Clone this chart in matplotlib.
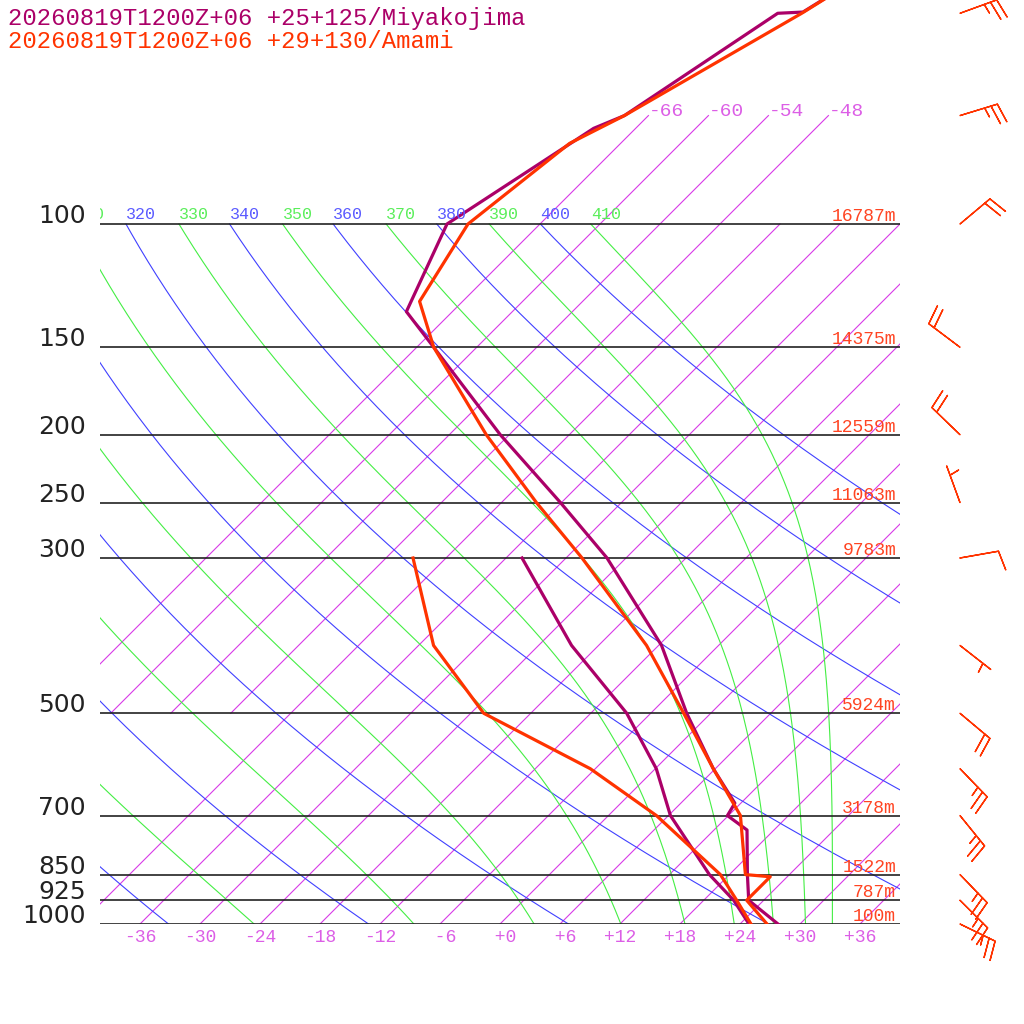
import numpy as np
import matplotlib
matplotlib.use('Agg')
import matplotlib.pyplot as plt
from matplotlib import transforms

# sounding: Miyakojima (pressure hPa, temperature degC)
miyako_t_p = [1000, 925, 850, 734, 700, 672, 600, 500, 400, 300, 250, 200, 150, 133.4, 100, 73, 70, 50, 49.8, 40]
miyako_t = [27.8, 22.5, 19.8, 15.3, 11.9, 11.4, 5.8, -2.4, -11.7, -25.9, -36.1, -48.9, -64.3, -70.6, -75.3, -70.2, -68.4, -63.3, -60.9, -56.8]
miyako_td_p = [1000, 925, 850, 700, 600, 500, 400, 300]
miyako_td = [24.9, 21.0, 16.0, 6.2, 0.1, -8.4, -20.7, -34.4]

# sounding: Amami
amami_t_p = [1000, 925, 856, 850, 700, 600, 500, 400, 300, 250, 200, 150, 129, 100, 76.7, 70, 50, 40]
amami_t = [26.7, 22.3, 22.3, 19.6, 13.2, 5.8, -2.7, -13.2, -28.4, -38.5, -50.3, -64.3, -70.3, -73.2, -71.1, -68.4, -60.9, -56.8]
amami_td_p = [1000, 925, 850, 700, 600, 500, 400, 300]
amami_td = [25.1, 21.3, 17.1, 4.8, -6.5, -22.7, -34.5, -45.3]

# Amami winds (direction deg, speed)
wind_p = [1000, 925, 850, 700, 600, 500, 400, 300, 250, 200, 150, 100, 70, 50]
wind_dir = [116, 135, 136, 141, 136, 130, 128, 80, 340, 314, 307, 50, 73, 70]
wind_spd = [25, 25, 25, 25, 25, 20, 5, 10, 5, 20, 20, 20, 25, 25]

# standard levels and Amami heights
levels = [1000, 925, 850, 700, 500, 300, 250, 200, 150, 100]
heights = ['100m', '787m', '1522m', '3178m', '5924m', '9783m', '11063m', '12559m', '14375m', '16787m']

iso_t = list(range(-66, 37, 6))
top_iso = [-66, -60, -54, -48]
bottom_ticks = list(range(-36, 37, 6))
dry_theta = list(range(240, 401, 20))
moist_theta = list(range(250, 411, 20))

c_miyako = '#ab0068'
c_amami = '#ff3300'
c_iso = '#d83ae8'
c_iso_txt = '#dc5ee6'
c_dry = '#4040ff'
c_dry_txt = '#5a5aff'
c_wet = '#44ee44'
c_wet_txt = '#5aee5a'
mono = 'Liberation Mono'

fig = plt.figure(figsize=(10.24, 10.24), dpi=100)
ax = fig.add_axes([100 / 1024, 100 / 1024, 800 / 1024, 924 / 1024])
ax.set_yscale('log')
p_top = 1000 * np.exp(-924 / (700 / np.log(10)))
ax.set_ylim(1000, p_top)
ax.set_xlim(-40, 40)
ax.set_autoscale_on(False)
ax.axis('off')

# 45 degree skew, anchored on the 1000 hPa line (pixel units)
skew = transforms.Affine2D().translate(0, -100).skew_deg(45, 0).translate(0, 100)
sk = ax.transData + skew

# isotherms
for t in iso_t:
    if t >= -42:
        ax.plot([t, t], [1000, 100], color=c_iso, lw=0.8, transform=sk)
    else:
        ax.plot([t, t], [500, 70], color=c_iso, lw=0.8, transform=sk)
for t in top_iso:
    ax.text(t, 70, str(t), transform=sk, color=c_iso_txt,
            fontsize=14, family=mono, ha='left', va='baseline')
for t in bottom_ticks:
    lab = f'{t:+d}'.rjust(3)
    ax.text(t, 1000, lab, transform=transforms.offset_copy(sk, fig=fig, y=-5, units='dots'),
            color=c_iso_txt, fontsize=13, family=mono, ha='center', va='top')

p_line = np.geomspace(1000, 100, 150)
lab_trans = transforms.offset_copy(sk, fig=fig, y=5, units='dots')
t_lab_min = -113  # labels further left are outside the frame

# dry adiabats
for th in dry_theta:
    tt = th * (p_line / 1000) ** 0.2857 - 273.15
    ax.plot(tt, p_line, color=c_dry, lw=0.8, transform=sk)
    if tt[-1] > t_lab_min:
        ax.text(tt[-1], 100, str(th), transform=lab_trans, color=c_dry_txt, fontsize=12,
                family=mono, ha='left', va='baseline', clip_on=True)


# saturated theta-e (Bolton 1980)
def theta_e_sat(t_c, p):
    tk = t_c + 273.15
    es = 6.112 * np.exp(17.67 * t_c / (t_c + 243.5))
    r = 622.0 * es / (p - es)
    return tk * (1000.0 / p) ** (0.2854 * (1 - 0.00028 * r)) * np.exp((3.376 / tk - 0.00254) * r * (1 + 0.00081 * r))


t_grid = np.arange(-150, 50, 0.02)
for the in moist_theta:
    tt = []
    for p in p_line:
        es = 6.112 * np.exp(17.67 * t_grid / (t_grid + 243.5))
        ok = t_grid[es < 0.15 * p]
        tt.append(np.interp(the, theta_e_sat(ok, p), ok))
    tt = np.array(tt)
    ax.plot(tt, p_line, color=c_wet, lw=0.8, transform=sk)
    if tt[-1] > t_lab_min:
        ax.text(tt[-1], 100, str(the), transform=lab_trans, color=c_wet_txt, fontsize=12,
                family=mono, ha='left', va='baseline', clip_on=True)

# pressure levels
ax.hlines(levels, -40, 40, colors='#222222', lw=1.2)
ylab = transforms.offset_copy(ax.get_yaxis_transform(), fig=fig, y=1, units='dots')
hlab = transforms.offset_copy(ax.get_yaxis_transform(), fig=fig, y=3, units='dots')
for p, h in zip(levels, heights):
    ax.text(-14 / 800, p, str(p), transform=ylab, fontsize=18, color='#222222',
            ha='right', va='baseline', clip_on=False)
    ax.text(796 / 800, p, h, transform=hlab, fontsize=13, color='#ff4422',
            family=mono, ha='right', va='baseline', clip_on=False)

# soundings
ax.plot(miyako_t, miyako_t_p, color=c_miyako, lw=2.3, transform=sk)
ax.plot(miyako_td, miyako_td_p, color=c_miyako, lw=2.3, transform=sk)
ax.plot(amami_t, amami_t_p, color=c_amami, lw=2.3, transform=sk)
ax.plot(amami_td, amami_td_p, color=c_amami, lw=2.3, transform=sk)

# wind barbs
wd = np.radians(wind_dir)
u = -np.array(wind_spd) * np.sin(wd)
v = -np.array(wind_spd) * np.cos(wd)
ax.barbs(np.full(len(wind_p), 46.0), wind_p, u, v, length=7.5, color=c_amami,
         linewidth=1.0, sizes=dict(spacing=0.17, height=0.5, width=0.2), clip_on=False)

fig.text(8 / 1024, 1 - 25 / 1024, '20260819T1200Z+06 +25+125/Miyakojima', color=c_miyako,
         fontsize=17.2, family=mono, va='baseline')
fig.text(8 / 1024, 1 - 48 / 1024, '20260819T1200Z+06 +29+130/Amami', color=c_amami,
         fontsize=17.2, family=mono, va='baseline')

fig.savefig('out.png', dpi=100, facecolor='white')
